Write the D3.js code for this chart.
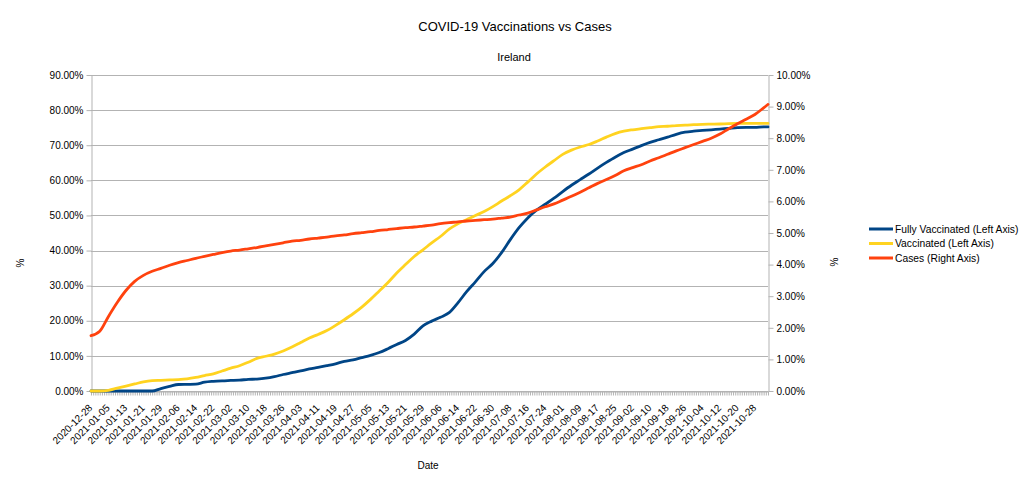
<!DOCTYPE html>
<html>
<head>
<meta charset="utf-8">
<script src="https://cdn.jsdelivr.net/npm/d3@7"></script>
<style>
  html, body { margin: 0; padding: 0; background: #fff; }
  svg { display: block; font-family: "Liberation Sans", Arial, sans-serif; }
</style>
</head>
<body>
<svg id="chart" width="1030" height="486"></svg>
<script>
// ---- Data ----
const dates = [
  "2020-12-28","2021-01-01","2021-01-05","2021-01-09","2021-01-13","2021-01-17","2021-01-21","2021-01-25",
  "2021-01-29","2021-02-02","2021-02-06","2021-02-10","2021-02-14","2021-02-18","2021-02-22","2021-02-26",
  "2021-03-02","2021-03-06","2021-03-10","2021-03-14","2021-03-18","2021-03-22","2021-03-26","2021-03-30",
  "2021-04-03","2021-04-07","2021-04-11","2021-04-15","2021-04-19","2021-04-23","2021-04-27","2021-05-01",
  "2021-05-05","2021-05-09","2021-05-13","2021-05-17","2021-05-21","2021-05-25","2021-05-29","2021-06-02",
  "2021-06-06","2021-06-10","2021-06-14","2021-06-18","2021-06-22","2021-06-26","2021-06-30","2021-07-04",
  "2021-07-08","2021-07-12","2021-07-16","2021-07-20","2021-07-24","2021-07-28","2021-08-01","2021-08-05",
  "2021-08-09","2021-08-13","2021-08-17","2021-08-21","2021-08-25","2021-08-29","2021-09-02","2021-09-06",
  "2021-09-10","2021-09-14","2021-09-18","2021-09-22","2021-09-26","2021-09-30","2021-10-04","2021-10-08",
  "2021-10-12","2021-10-16","2021-10-20","2021-10-24","2021-10-28","2021-11-01","2021-11-03"
];
// Fully Vaccinated, % (left axis)
const fullyVaccinated = [
  0,0,0,0,0,0,0,0,
  0.7,1.3,1.85,1.9,1.95,2.5,2.75,2.9,
  3.0,3.1,3.3,3.4,3.65,4.1,4.7,5.2,
  5.7,6.3,6.7,7.2,7.75,8.45,8.85,9.5,
  10.15,10.95,12.05,13.25,14.4,16.2,18.55,19.9,
  21.0,22.3,25.1,28.3,31.1,34.0,36.3,39.4,
  43.1,46.5,49.3,51.5,53.2,54.9,56.8,58.6,
  60.2,61.8,63.5,65.1,66.6,67.9,68.9,69.9,
  70.8,71.55,72.3,73.1,73.7,74.0,74.2,74.4,
  74.6,74.8,75.0,75.1,75.1,75.2,75.2
];
// Vaccinated, % (left axis)
const vaccinated = [
  0,0,0.2,0.8,1.4,2.0,2.6,2.95,
  3.05,3.15,3.25,3.45,3.85,4.4,4.9,5.7,
  6.5,7.2,8.2,9.3,9.9,10.5,11.4,12.5,
  13.8,15.1,16.1,17.2,18.7,20.3,22.0,23.9,
  26.1,28.5,30.9,33.6,36.0,38.3,40.2,42.2,
  44.0,46.1,47.6,48.8,50.0,51.1,52.5,54.1,
  55.6,57.3,59.5,61.8,63.8,65.6,67.4,68.6,
  69.5,70.2,71.2,72.3,73.3,74.0,74.4,74.7,
  75.0,75.3,75.4,75.6,75.75,75.85,75.95,76.0,
  76.05,76.15,76.2,76.2,76.2,76.2,76.2
];
// Cases, % (right axis)
const cases = [
  1.75,1.89,2.36,2.80,3.18,3.47,3.66,3.79,
  3.88,3.98,4.06,4.13,4.20,4.26,4.32,4.38,
  4.43,4.46,4.50,4.54,4.59,4.64,4.69,4.74,
  4.77,4.81,4.84,4.87,4.91,4.94,4.98,5.01,
  5.04,5.08,5.11,5.14,5.17,5.19,5.22,5.25,
  5.30,5.33,5.35,5.38,5.40,5.42,5.44,5.47,
  5.50,5.57,5.63,5.73,5.83,5.92,6.04,6.16,
  6.29,6.43,6.57,6.69,6.82,6.97,7.07,7.16,
  7.28,7.38,7.49,7.60,7.70,7.80,7.90,8.00,
  8.13,8.30,8.46,8.60,8.75,8.96,9.07
];
const tickLabels = [
  "2020-12-28","2021-01-05","2021-01-13","2021-01-21","2021-01-29","2021-02-06","2021-02-14","2021-02-22",
  "2021-03-02","2021-03-10","2021-03-18","2021-03-26","2021-04-03","2021-04-11","2021-04-19","2021-04-27",
  "2021-05-05","2021-05-13","2021-05-21","2021-05-29","2021-06-06","2021-06-14","2021-06-22","2021-06-30",
  "2021-07-08","2021-07-16","2021-07-24","2021-08-01","2021-08-09","2021-08-17","2021-08-25","2021-09-02",
  "2021-09-10","2021-09-18","2021-09-26","2021-10-04","2021-10-12","2021-10-20","2021-10-28"
];
const firstCategory = "2020-12-28";
const lastCategory = "2021-11-03";
const leftTicks = [0,10,20,30,40,50,60,70,80,90];
const rightTicks = [0,1,2,3,4,5,6,7,8,9,10];
const seriesNames = ["Fully Vaccinated (Left Axis)", "Vaccinated (Left Axis)", "Cases (Right Axis)"];
const seriesColors = ["#004586", "#ffd320", "#ff420e"];
const titleText = "COVID-19 Vaccinations vs Cases";
const subtitleText = "Ireland";

// ---- Layout ----
const L = 91, R = 768, T = 75, B = 391;
const grid = "#b3b3b3";
const svg = d3.select("#chart");
const parse = d3.utcParse("%Y-%m-%d");

const x = d3.scaleUtc().domain([parse(firstCategory), parse(lastCategory)]).range([L, R]);
const yL = d3.scaleLinear().domain([0, 90]).range([B, T]);
const yR = d3.scaleLinear().domain([0, 10]).range([B, T]);
const pct = v => v.toFixed(2) + "%";

// gridlines
svg.append("g").selectAll("line").data(leftTicks).join("line")
  .attr("x1", L).attr("x2", R)
  .attr("y1", d => Math.round(yL(d)) + 0.5).attr("y2", d => Math.round(yL(d)) + 0.5)
  .attr("stroke", grid).attr("stroke-width", 1);

function styleAxis(g) {
  g.selectAll("path.domain").attr("stroke", grid);
  g.selectAll(".tick line").attr("stroke", grid);
  g.selectAll("text").attr("fill", "#000").style("font-size", "10px")
    .style("font-family", '"Liberation Sans", Arial, sans-serif');
}

// left axis
svg.append("g").attr("transform", `translate(${L + 0.5},0)`)
  .call(d3.axisLeft(yL).tickValues(leftTicks).tickFormat(pct).tickSize(5).tickPadding(3).tickSizeOuter(0))
  .call(styleAxis);
// right axis
svg.append("g").attr("transform", `translate(${R + 0.5},0)`)
  .call(d3.axisRight(yR).tickValues(rightTicks).tickFormat(pct).tickSize(5).tickPadding(3).tickSizeOuter(0))
  .call(styleAxis);

// bottom axis: one tick per category (day)
const dayTicks = x.ticks(d3.utcDay.every(1));
svg.append("g").attr("transform", `translate(0,${B + 0.5})`)
  .call(d3.axisBottom(x).tickValues(dayTicks).tickFormat("").tickSize(4).tickSizeOuter(0))
  .call(styleAxis);
// labels every 8 categories
const labelAxis = svg.append("g").attr("transform", `translate(0,${B + 0.5})`)
  .call(d3.axisBottom(x).tickValues(tickLabels.map(parse)).tickFormat(d3.utcFormat("%Y-%m-%d")).tickSize(0).tickSizeOuter(0))
  .call(styleAxis);
labelAxis.select("path.domain").remove();
labelAxis.selectAll("text")
  .attr("x", 0).attr("y", 0).attr("dy", 0)
  .attr("text-anchor", "end")
  .attr("transform", "translate(1.5,17) rotate(-45)");

// lines
const rows = dates.map((d, i) => ({ date: parse(d), fv: fullyVaccinated[i], v: vaccinated[i], c: cases[i] }));
const lineFV = d3.line().x(d => x(d.date)).y(d => yL(d.fv)).curve(d3.curveMonotoneX);
const lineV = d3.line().x(d => x(d.date)).y(d => yL(d.v)).curve(d3.curveMonotoneX);
const lineC = d3.line().x(d => x(d.date)).y(d => yR(d.c)).curve(d3.curveMonotoneX);
[lineFV, lineV, lineC].forEach((ln, k) => {
  svg.append("path").datum(rows).attr("d", ln)
    .attr("fill", "none").attr("stroke", seriesColors[k])
    .attr("stroke-width", 2.8).attr("stroke-linejoin", "round").attr("stroke-linecap", "round");
});

// titles
svg.append("text").attr("x", 515).attr("y", 31).attr("text-anchor", "middle")
  .style("font-size", "13px").attr("fill", "#000").text(titleText);
svg.append("text").attr("x", 514).attr("y", 61).attr("text-anchor", "middle")
  .style("font-size", "11px").attr("fill", "#000").text(subtitleText);
svg.append("text").attr("transform", "translate(24,263) rotate(-90)").attr("text-anchor", "middle")
  .style("font-size", "10px").attr("fill", "#000").text("%");
svg.append("text").attr("transform", "translate(838,262) rotate(-90)").attr("text-anchor", "middle")
  .style("font-size", "10px").attr("fill", "#000").text("%");
svg.append("text").attr("x", 428).attr("y", 469).attr("text-anchor", "middle")
  .style("font-size", "10px").attr("fill", "#000").text("Date");

// legend
const legend = svg.append("g");
const legY = [229, 243.5, 258];
seriesNames.forEach((name, k) => {
  legend.append("line").attr("x1", 869).attr("x2", 893).attr("y1", legY[k]).attr("y2", legY[k])
    .attr("stroke", seriesColors[k]).attr("stroke-width", 3);
  legend.append("text").attr("x", 895).attr("y", legY[k] + 3.5)
    .style("font-size", "10.3px").attr("fill", "#000").text(name);
});
</script>
</body>
</html>
